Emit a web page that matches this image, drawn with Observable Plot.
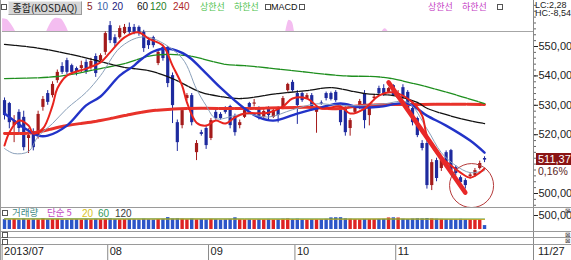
<!DOCTYPE html>
<html><head><meta charset="utf-8">
<script src="https://cdn.jsdelivr.net/npm/d3@7"></script>
<script src="https://cdn.jsdelivr.net/npm/@observablehq/plot@0.6"></script>
<style>
html,body{margin:0;padding:0;background:#fff;}
#chart{position:relative;width:571px;height:260px;overflow:hidden;background:#fff;font-family:"Liberation Sans",Arial,sans-serif;}
#chart .abs{position:absolute;white-space:nowrap;line-height:1;}
#chart svg{position:absolute;left:0;}
.kr{font-family:"Noto Sans CJK KR",sans-serif;}
.ln{position:absolute;background:#9a9a9a;}
.ico{position:absolute;width:4px;height:4px;border:1px solid #555;background:#fff;}
</style></head><body><div id="chart"></div><script>
// ---- data (KOSDAQ daily, 2013/07 .. 11/27) ----
const open = [
531.6,530.6,523.1,527.6,525.9,518.7,521.1,519.7,529.3,534.0,
533.3,538.4,543.2,545.2,543.5,542.5,542.5,544.6,542.9,546.6,
545.2,548.0,557.1,553.0,553.0,554.4,556.5,556.5,556.5,554.8,
552.0,553.0,544.2,549.7,549.7,540.1,524.1,523.1,532.3,533.3,
513.9,520.7,522.1,518.7,527.6,526.9,528.6,529.6,526.2,523.1,
525.9,530.6,530.4,528.9,525.9,528.9,525.9,528.9,528.9,535.0,
537.8,534.0,534.0,532.3,533.3,527.6,530.8,534.0,534.0,534.4,
529.6,528.9,522.1,527.6,529.3,534.0,526.5,532.3,535.7,535.7,
534.4,536.7,532.3,536.0,534.4,528.9,525.5,517.0,517.0,502.7,
511.2,508.5,513.9,514.6,508.8,505.4,504.4,505.8,506.1,508.5,
511.9];
const high = [
532.5,531.0,526.5,528.5,528.0,522.0,522.0,528.0,533.0,535.0,
538.0,542.0,544.5,546.0,544.0,543.0,545.0,545.5,546.0,547.5,
547.5,555.0,558.5,554.0,557.0,557.5,558.0,557.5,557.0,555.5,
553.0,553.5,548.5,550.5,550.0,541.0,525.0,529.0,534.0,534.0,
518.0,521.5,523.0,525.5,528.5,527.5,529.5,530.0,527.0,525.0,
529.0,531.0,532.0,529.5,528.5,529.5,529.0,529.5,533.0,537.5,
538.5,535.0,534.5,534.0,534.0,529.5,531.5,534.5,534.5,535.0,
530.0,529.5,525.5,530.0,532.0,535.0,530.5,533.5,536.5,537.0,
536.0,537.0,535.0,537.0,535.0,529.5,526.0,518.0,518.0,511.5,
512.0,512.0,514.5,515.0,509.5,506.0,505.0,507.0,508.5,511.0,
512.5];
const low = [
525.0,522.0,517.3,520.0,514.5,513.6,514.5,518.5,528.0,530.0,
532.5,537.5,540.5,540.5,540.5,540.0,541.0,540.5,542.0,539.5,
544.5,547.0,551.0,550.0,552.5,554.0,554.0,554.0,553.5,548.0,
549.0,549.5,543.5,545.0,536.0,523.8,514.3,522.0,531.5,523.0,
511.2,519.5,515.0,518.0,525.0,525.0,527.0,522.0,519.5,522.0,
525.5,528.5,529.5,525.0,525.5,524.5,525.5,524.0,528.5,534.5,
534.5,523.5,531.0,532.0,528.0,520.5,530.0,531.5,531.5,531.0,
523.0,519.5,519.5,527.0,528.5,522.0,523.0,531.5,533.5,533.0,
534.0,533.0,532.0,532.0,528.0,523.0,519.0,514.5,501.5,501.0,
504.0,507.5,509.5,507.0,506.0,502.5,501.5,505.0,505.5,508.0,
510.5];
const close = [
526.5,524.1,524.8,522.1,515.6,519.7,515.6,526.9,532.0,531.0,
537.1,541.2,541.2,541.2,541.2,541.2,543.5,541.2,544.9,540.8,
546.9,554.4,552.0,551.0,556.1,556.5,554.8,554.8,554.4,549.3,
550.3,550.3,548.0,545.9,537.4,529.9,517.3,528.2,533.3,524.1,
517.0,520.1,516.3,524.8,525.5,525.5,527.6,523.1,520.7,524.1,
528.2,529.3,530.8,525.5,527.9,526.5,528.2,526.5,532.3,537.1,
535.0,529.9,531.6,533.3,528.9,528.9,530.4,532.3,532.0,531.6,
524.1,520.7,524.8,529.3,531.3,524.8,529.9,532.8,534.0,534.0,
535.7,533.3,534.0,532.7,528.9,524.1,519.7,515.3,502.7,510.5,
505.1,511.2,510.2,507.8,506.8,503.7,502.7,506.3,507.8,510.2,
511.37];
// volume, thousands
const volume = [
352,345,360,338,366,341,350,344,372,348,
355,362,340,336,347,351,339,358,343,361,
349,368,375,357,346,353,359,349,342,365,
351,340,356,362,425,371,380,366,350,372,
344,357,349,361,350,338,346,359,418,352,
343,349,336,355,347,360,341,352,364,372,
358,366,349,340,355,347,352,362,415,420,
422,380,364,350,345,360,353,349,358,362,
412,418,410,366,356,371,382,377,390,375,
368,360,357,352,349,361,355,347,350,352,
140];

// moving averages (candle index, value)
const ma5Idx = [0,1,3,5,6,8,10,11,13,17,20,22,25,28,30,33,35,37,38,40,42,44,46,48,50,55,58,60,63,66,70,72,75,78,81,85,87,88,90,93,95,97,99,100];
const ma5Val = [516.3,520.7,524.8,523.1,520.4,522.1,529.9,535.7,540.1,542.5,544.6,548.0,553.1,554.8,552.7,550.3,543.5,536.7,531.0,524.1,523.1,524.8,523.8,525.9,527.2,527.5,529.6,532.3,532.3,528.9,529.6,527.2,528.9,533.3,534.4,531.0,526.5,519.7,513.9,509.5,507.1,505.4,507.1,508.5];
const ma10Idx = [0,2,5,7,10,13,17,20,24,28,31,37,40,42,44,48,50,55,60,65,70,74,79,84,88,91,94,97,100];
const ma10Val = [515.3,513.6,514.3,519.4,523.8,528.9,534.4,540.1,549.5,553.1,552.7,546.0,535.5,529.9,525.5,526.5,527.2,526.0,528.5,530.5,529.9,529.9,530.5,531.0,522.0,513.9,509.5,507.1,507.8];
const ma20Idx = [0,2,4,7,9,13,17,20,24,27,28,31,34,38,41,45,50,53,56,61,66,70,74,78,84,88,92,97,100];
const ma20Val = [527.2,524.8,522.4,519.7,519.7,523.1,530.0,533.0,540.1,543.5,545.0,548.3,549.3,546.9,542.5,536.0,528.9,525.9,524.8,527.2,529.3,530.6,529.3,529.5,530.6,526.5,523.1,518.0,513.9];
const ma60Idx = [0,6,13,20,25,30,35,41,45,49,57,63,68,75,81,86,88,95,100];
const ma60Val = [550.7,549.7,547.6,544.9,542.9,541.8,539.1,534.4,533.0,532.3,534.0,535.0,536.0,534.0,533.3,531.0,529.0,525.5,523.8];
const ma120Idx = [0,11,20,25,31,38,46,50,60,70,79,85,92,100];
const ma120Val = [539.1,539.8,542.5,544.2,547.0,546.9,543.9,543.5,541.8,540.1,539.5,537.5,534.5,530.6];
const ma240Idx = [0,6,13,20,25,31,38,50,63,70,74,87,100];
const ma240Val = [520.4,520.7,523.1,524.8,526.5,528.2,528.9,528.9,529.3,528.9,529.9,530.3,530.3];
// volume moving averages (thousands)
const vma20Idx = [0,20,40,60,80,100];
const vma20Val = [372,368,374,362,376,360];
const vma60Idx = [0,25,50,75,100];
const vma60Val = [382,379,377,374,372];
// MACD overlay (positive humps only)
const macdIdx = [-0.4,0.5,1.5,2.3, 8.8,9.8,10.8,11.8,12.6,13.3, 58.6,59.3,60.0,60.4, 78.7,79.3,79.9];
const macdVal = [3.2,3.0,1.6,0, 0,2.4,3.3,3.1,1.8,0, 0,2.8,2.2,0, 0,0.7,0];
const macdGrp = [0,0,0,0, 1,1,1,1,1,1, 2,2,2,2, 3,3,3];
// drawn trend line and circle annotation
const trendIdx = [80, 96];
const trendVal = [537.8, 500.3];
const circleIdx = [97.3];
const circleVal = [502.7];
// ticks
const priceTicks = [500, 520, 530, 540, 550];
const monthStart = [0, 22, 43, 61, 82];
const monthLabel = ["2013/07", "08", "09", "10", "11"];
const lastDateLabel = "11/27";
const changePct = "0,16%";

// ---- build ----
const W = 571;
const xDomain = [-0.42, 110.2];
const UP = "#a41b1b", DOWN = "#1e2a9e";
const VUP = "#de2222", VDOWN = "#2b55c8";
const candles = open.map((o, i) => ({i, open: o, high: high[i], low: low[i], close: close[i], volume: volume[i] * 1000, up: close[i] >= o}));
const pts = (idx, val) => idx.map((i, k) => ({i, v: val[k]}));
const macd = macdIdx.map((i, k) => ({i, v: macdVal[k], g: macdGrp[k]}));
const fmt = d => d.toFixed(2).replace(".", ",");
const base = {width: W, marginLeft: 2, marginRight: 38, x: {domain: xDomain, axis: null}, color: {type: "identity"}};
const st = {background: "transparent", fontFamily: "Liberation Sans, Arial, sans-serif", fontSize: "11px", color: "#222", overflow: "hidden"};

const root = document.getElementById("chart");

// MACD overlay (under price)
const macdChart = Plot.plot({...base, height: 32, marginTop: 17, marginBottom: 1,
  y: {domain: [0, 3.5], axis: null}, style: st,
  marks: [
    Plot.areaY(macd, {x: "i", y: "v", z: "g", fill: "#f4bdf0", curve: "monotone-x"}),
    Plot.ruleY([0], {stroke: "#a6a6a6"})
  ]});
macdChart.style.top = "0px";
root.appendChild(macdChart);

const line = (idx, val, stroke, w, dash) => Plot.line(pts(idx, val), {x: "i", y: "v", stroke, strokeWidth: w, strokeDasharray: dash, curve: "catmull-rom", clip: true});

const priceChart = Plot.plot({...base, height: 207, marginTop: 0, marginBottom: 0,
  y: {domain: [495.24, 565.65]}, style: st,
  marks: [
    Plot.axisY(d3.range(496, 566, 2), {anchor: "right", tickSize: 2, tickFormat: () => "", stroke: "#666"}),
    Plot.axisY(priceTicks, {anchor: "right", tickSize: 4, tickPadding: 1, tickFormat: fmt, fontSize: 11}),
    Plot.ruleX(candles, {x: "i", y1: "low", y2: "high", stroke: d => d.up ? UP : DOWN, strokeWidth: 1}),
    Plot.ruleX(candles, {x: "i", y1: "open", y2: "close", stroke: d => d.up ? UP : DOWN, strokeWidth: 3.2}),
    line(ma240Idx, ma240Val, "#e8322a", 3, "14,1.5"),
    line(ma120Idx, ma120Val, "#1f8f1f", 1.3, "10,1.2"),
    line(ma60Idx, ma60Val, "#111111", 1.3, "10,1.2"),
    line(ma20Idx, ma20Val, "#2233c8", 2.4),
    line(ma10Idx, ma10Val, "#8aa0ba", 1),
    line(ma5Idx, ma5Val, "#e8241e", 2),
    Plot.line(pts(trendIdx, trendVal), {x: "i", y: "v", stroke: "#e82828", strokeWidth: 4.5}),
    Plot.dot(pts(circleIdx, circleVal), {x: "i", y: "v", r: 22, stroke: "#b53a3a", fill: "none", strokeWidth: 1})
  ]});
priceChart.style.top = "0px";
root.appendChild(priceChart);

const volChart = Plot.plot({...base, height: 24, marginTop: 0, marginBottom: 2,
  y: {domain: [0, 785000]}, style: st,
  marks: [
    Plot.ruleX(candles, {x: "i", y1: 0, y2: "volume", stroke: d => d.up ? VUP : VDOWN, strokeWidth: 3.4}),
    Plot.line(pts(vma60Idx, vma60Val.map(v => v * 1000)), {x: "i", y: "v", stroke: "#3c9a3c", strokeWidth: 1}),
    Plot.line(pts(vma20Idx, vma20Val.map(v => v * 1000)), {x: "i", y: "v", stroke: "#c8a828", strokeWidth: 1}),
    Plot.axisY([500000], {anchor: "right", tickSize: 4, tickPadding: 1, tickFormat: d => d3.format(",")(d).slice(0, 6), fontSize: 11})
  ]});
volChart.style.top = "207px";
root.appendChild(volChart);

const axisChart = Plot.plot({...base, height: 16, marginTop: 0, marginBottom: 0,
  y: {axis: null}, style: st,
  marks: [
    Plot.ruleX(monthStart, {x: d => d - 0.5, stroke: "#8a8a8a"}),
    Plot.text(monthStart, {x: d => d - 0.5, text: (d, k) => monthLabel[k], textAnchor: "start", dx: 2, dy: -1, frameAnchor: "middle", fontSize: 11, fill: "#222"})
  ]});
axisChart.style.top = "244px";
root.appendChild(axisChart);

// ---- frame lines ----
function ln(l, t, w, h, c) { const d = document.createElement("div"); d.className = "ln"; Object.assign(d.style, {left: l + "px", top: t + "px", width: w + "px", height: h + "px"}); if (c) d.style.background = c; root.appendChild(d); }
ln(0, 0, 1, 260);
ln(533, 0, 1, 260, "#888");
ln(0, 207, 571, 1);
ln(0, 231, 571, 1);
ln(0, 237, 571, 1);
ln(0, 244, 571, 1);

function txt(s, l, t, opt = {}) {
  const d = document.createElement("div"); d.className = "abs" + (opt.kr ? " kr" : "");
  d.textContent = s;
  Object.assign(d.style, {left: l + "px", top: t + "px", fontSize: (opt.size || 11) + "px", color: opt.color || "#222"});
  if (opt.css) Object.assign(d.style, opt.css);
  root.appendChild(d); return d;
}
function ico(l, t) { const d = document.createElement("div"); d.className = "ico"; d.style.left = l + "px"; d.style.top = t + "px"; root.appendChild(d); }

// header
ico(1, 4);
txt("종합(KOSDAQ)", 8, 1, {kr: true, size: 10, color: "#222", css: {background: "#d6d6d6", border: "1px solid #9a9a9a", borderTopColor: "#eee", borderLeftColor: "#eee", padding: "0 2px", width: "68px", height: "12px", lineHeight: "12px", textAlign: "center", overflow: "hidden"}});
txt("5", 87, 2, {size: 10, color: "#8b1a1a"});
txt("10", 97, 2, {size: 10, color: "#3a62a8"});
txt("20", 112, 2, {size: 10, color: "#1a1a80"});
txt("60", 137, 2, {size: 10, color: "#111"});
txt("120", 150, 2, {size: 10, color: "#1f7f1f"});
txt("240", 173, 2, {size: 10, color: "#b02828"});
txt("상한선", 200, 1.5, {kr: true, size: 9, color: "#4cc24c"});
txt("하한선", 234, 1.5, {kr: true, size: 9, color: "#4cc24c"});
ico(265, 4);
txt("MACD", 271, 2.5, {size: 9, color: "#111"});
ico(299, 4);
txt("상한선", 428, 1.5, {kr: true, size: 9, color: "#c43cc4"});
txt("하한선", 462, 1.5, {kr: true, size: 9, color: "#c43cc4"});
ico(497, 4);
txt("LC:2,28", 535, 0.5, {size: 9});
txt("HC:-8,54", 535, 9, {size: 9});

// close label
const yClose = priceChart.scale("y").apply(close[close.length - 1]);
txt(fmt(close[close.length - 1]), 536, yClose - 6.5, {color: "#fff", css: {background: "#8a1414", width: "33px", height: "12px", lineHeight: "12px", paddingLeft: "2px"}});
txt(changePct, 538, yClose + 6.5, {size: 10.5, color: "#5a1e1e"});

// volume header
ico(2, 210);
txt("거래량", 12, 208, {kr: true, color: "#3f8a86", size: 9.5});
txt("단순 5", 47, 208, {kr: true, color: "#c24ac2", size: 9.5});
txt("20", 82, 208.5, {color: "#d8c21c", size: 10});
txt("60", 98, 208.5, {color: "#2f9a5a", size: 10});
txt("120", 115, 208.5, {color: "#3a3a3a", size: 10});
txt("⊠", 565, 208, {size: 6.5, color: "#444", css: {fontFamily: "DejaVu Sans"}});
ico(2, 232); ico(2, 238.5);
txt("⊠", 565, 231.5, {size: 6.5, color: "#444", css: {fontFamily: "DejaVu Sans"}});
txt("⊠", 565, 238, {size: 6.5, color: "#444", css: {fontFamily: "DejaVu Sans"}});
txt(lastDateLabel, 538, 246, {size: 11});
</script></body></html>
